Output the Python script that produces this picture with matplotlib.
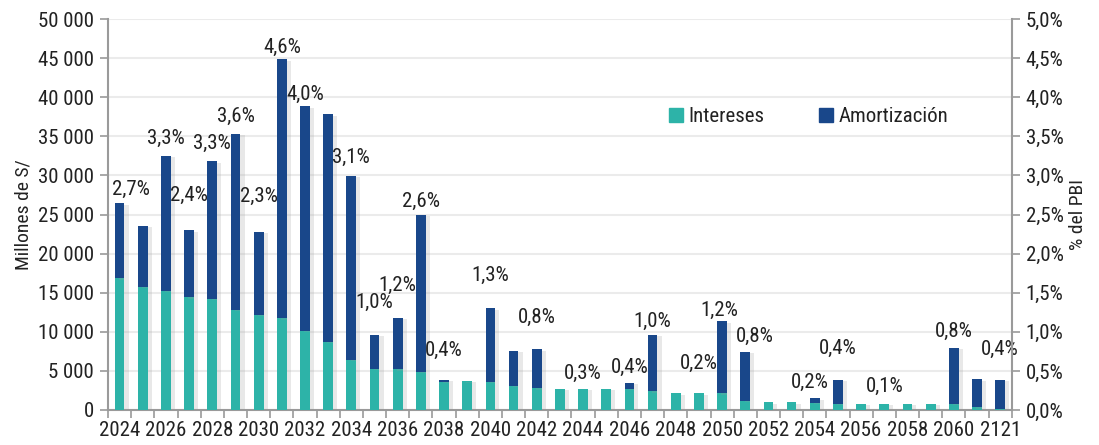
import matplotlib
matplotlib.use("Agg")
import matplotlib.pyplot as plt
import matplotlib.patheffects as pe
from matplotlib.ticker import FuncFormatter, MultipleLocator
from matplotlib.patches import Patch

plt.rcParams["font.family"] = ["Roboto Condensed", "Archivo Narrow", "Liberation Sans", "DejaVu Sans"]

# ---------------------------------------------------------------------------
# Data (millones de S/)
# ---------------------------------------------------------------------------
years = [str(y) for y in range(2024, 2062)] + ["2121"]

intereses = [
    16840, 15770, 15220, 14410, 14190, 12790, 12150, 11720, 10100, 8700,
    6440, 5240, 5200, 4900, 3620, 3650, 3580, 3070, 2770, 2690,
    2690, 2690, 2690, 2390, 2130, 2130, 2130, 1150, 980, 980,
    940, 810, 770, 770, 770, 770, 770, 340, 170,
]
totales = [
    26430, 23530, 32480, 22980, 31800, 35340, 22760, 44880, 38870, 37810,
    29970, 9630, 11760, 24940, 3840, 3710, 13000, 7590, 7760, 2690,
    2690, 2690, 3450, 9630, 2130, 2130, 11340, 7460, 980, 980,
    1490, 3880, 770, 770, 770, 770, 7970, 3920, 3840,
]
amortizacion = [t - i for t, i in zip(totales, intereses)]

# % del PBI labels
label_years = ["2024", "2026", "2027", "2028", "2029", "2030", "2031", "2032",
               "2034", "2035", "2036", "2037", "2038", "2040", "2042", "2044",
               "2046", "2047", "2049", "2050", "2051", "2054", "2055", "2057",
               "2060", "2121"]
label_pct = [2.7, 3.3, 2.4, 3.3, 3.6, 2.3, 4.6, 4.0,
             3.1, 1.0, 1.2, 2.6, 0.4, 1.3, 0.8, 0.3,
             0.4, 1.0, 0.2, 1.2, 0.8, 0.2, 0.4, 0.1,
             0.8, 0.4]

# label placement above bar tops (pixels): (dx, dy)
label_offsets = {
    "2024": (11, 14), "2026": (0, 18), "2027": (0, 35), "2028": (0, 18),
    "2029": (0, 17), "2030": (0, 36), "2031": (0, 12), "2032": (0, 12),
    "2034": (0, 18), "2035": (0, 32), "2036": (0, 33), "2037": (0, 14),
    "2038": (0, 30), "2040": (0, 33), "2042": (0, 32), "2044": (0, 16),
    "2046": (0, 16), "2047": (0, 13), "2049": (0, 30), "2050": (-3, 11),
    "2051": (10, 15), "2054": (-5, 16), "2055": (0, 31), "2057": (0, 18),
    "2060": (0, 16), "2121": (0, 31),
}

C_INT = "#2DB3A8"
C_AMO = "#19478A"
GRID = "#EBEBEB"
SPINE = "#9A9A9A"
TXT = "#222222"
FS = 15

fig = plt.figure(figsize=(10.99, 4.45), dpi=100)
ax = fig.add_axes([0.0983, 0.0787, 0.8223, 0.8783])

x = list(range(len(years)))
shadow = [pe.SimplePatchShadow(offset=(3, -1), shadow_rgbFace="#999999", alpha=0.22),
          pe.Normal()]
b1 = ax.bar(x, intereses, 0.42, color=C_INT, zorder=3)
b2 = ax.bar(x, amortizacion, 0.42, bottom=intereses, color=C_AMO, zorder=3)
for r in list(b1) + list(b2):
    r.set_path_effects(shadow)

ax.set_xlim(-0.5, len(years) - 0.5)
ax.set_ylim(0, 50000)
ax.yaxis.set_major_locator(MultipleLocator(5000))
ax.yaxis.set_major_formatter(FuncFormatter(lambda v, p: f"{v:,.0f}".replace(",", " ")))
ax.yaxis.grid(True, color=GRID, linewidth=1.5, zorder=0)
ax.set_axisbelow(True)

ax.set_xticks(x[::2])
ax.set_xticklabels(years[::2])
ax.set_xticks([i - 0.5 for i in range(len(years) + 1)], minor=True)
ax.tick_params(axis="x", which="major", length=0, pad=8, labelsize=FS, labelcolor=TXT)
ax.tick_params(axis="x", which="minor", length=6, width=1.2, color=SPINE)
ax.tick_params(axis="y", length=6, width=1.2, color=SPINE, labelsize=FS, labelcolor=TXT, pad=4)

for s in ["top", "right"]:
    ax.spines[s].set_visible(False)
for s in ["left", "bottom"]:
    ax.spines[s].set_color(SPINE)
    ax.spines[s].set_linewidth(1.5)

ax.set_ylabel("Millones de S/", fontsize=14, color=TXT, labelpad=4)

ax2 = ax.twinx()
ax2.set_ylim(0, 5.0)
ax2.yaxis.set_major_locator(MultipleLocator(0.5))
ax2.yaxis.set_major_formatter(FuncFormatter(lambda v, p: f"{v:.1f}%".replace(".", ",")))
ax2.tick_params(axis="y", length=6, width=1.2, color=SPINE, labelsize=FS, labelcolor=TXT, pad=4)
for s in ["top", "left", "bottom"]:
    ax2.spines[s].set_visible(False)
ax2.spines["right"].set_color(SPINE)
ax2.spines["right"].set_linewidth(1.5)
ax2.set_ylabel("% del PBI", fontsize=14, color=TXT, labelpad=4)

for yr, pct in zip(label_years, label_pct):
    i = years.index(yr)
    dx, dy = label_offsets[yr]
    ax.annotate(f"{pct:.1f}%".replace(".", ","), (i, totales[i]),
                xytext=(dx * 0.72, dy * 0.72), textcoords="offset points",
                ha="center", va="center", fontsize=FS, color=TXT, zorder=5,
                annotation_clip=False)

handles = [Patch(color=C_INT, label="Intereses"), Patch(color=C_AMO, label="Amortización")]
ax.legend(handles=handles, loc="center left", bbox_to_anchor=(0.60, 0.75), ncol=2,
          frameon=False, fontsize=FS, handlelength=0.65, handleheight=0.65,
          handletextpad=0.3, columnspacing=2.6, labelcolor=TXT)

fig.savefig("out.png", dpi=100)
